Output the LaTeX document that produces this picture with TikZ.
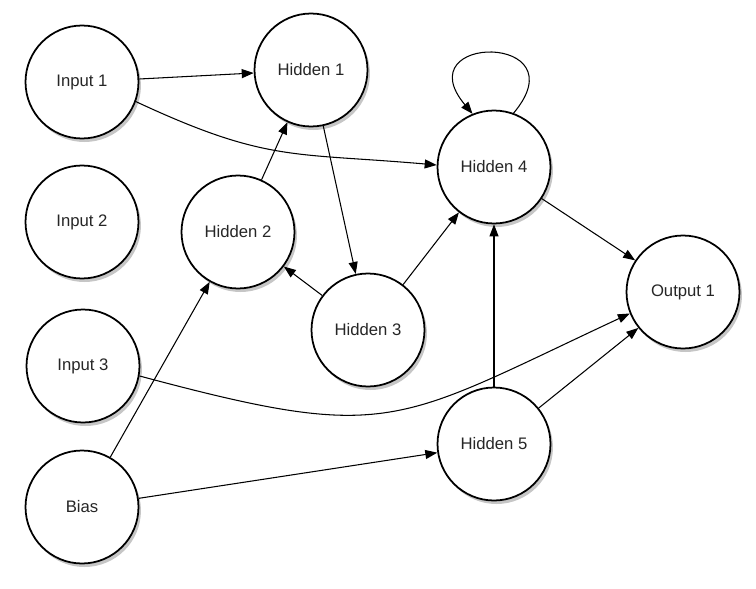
\documentclass[tikz,border=0pt]{standalone}
\usepackage{fontspec}
\setmainfont{Liberation Sans}
\usetikzlibrary{arrows.meta,shadows}

\begin{document}
\begin{tikzpicture}[x=0.02cm,y=-0.02cm,>={Triangle[length=2.4mm,width=1.8mm]},
		neuron/.style={circle,draw,line width=1pt,fill=white,minimum size=2.26cm,inner sep=0pt,
			font=\fontsize{9.5}{11}\selectfont,text=black!85,
			drop shadow={shadow xshift=1.4pt,shadow yshift=-2pt,opacity=0.45}},
		link/.style={->,line width=0.6pt}]
				\useasboundingbox (0,0) rectangle (756,588);
				% Neurons
				\foreach \name/\x/\y/\txt in {in1/82/82/Input 1, in2/82/222/Input 2, in3/83/366/Input 3,
					bias/82/507/Bias, h1/311/70/Hidden 1, h2/238/232/Hidden 2, h3/368/330/Hidden 3,
					h4/494/167/Hidden 4, h5/494/444/Hidden 5, out/683/292/Output 1}{
					\node[neuron] (\name) at (\x,\y) {\txt};
				}
				% Straight links
				\foreach \a/\b in {in1/h1,h2/h1,h1/h3,h3/h2,h3/h4,h4/out,h5/h4,h5/out,bias/h2,bias/h5}{
					\draw[link] (\a) -- (\b);
				}
				% Curved links
				\draw[link] (in1.-20) to[out=-25,in=175,looseness=1.2] (h4.178);
				\draw[link] (in3.-10) to[out=-15,in=205,looseness=1.35] (out.202);
				% Self loop
				\draw[link] (h4.70) .. controls +(50:2.1cm) and +(130:2.1cm) .. (h4.112);
			\end{tikzpicture}
\end{document}
